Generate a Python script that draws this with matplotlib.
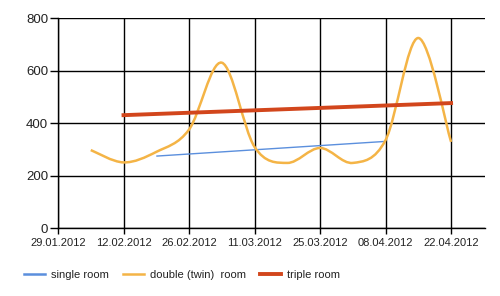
import matplotlib
matplotlib.use("Agg")
import matplotlib.pyplot as plt
import matplotlib.dates as mdates
from matplotlib.path import Path
from matplotlib.patches import PathPatch
from matplotlib.lines import Line2D
import numpy as np
import datetime as dt

plt.rcParams['font.family'] = ['Liberation Sans', 'DejaVu Sans']

# ---- data ----
single_dates = ["2012-02-19", "2012-04-08"]
single_vals = [274, 330]

double_dates = ["2012-02-05", "2012-02-12", "2012-02-19", "2012-02-26", "2012-03-04",
                "2012-03-11", "2012-03-18", "2012-03-25", "2012-04-01", "2012-04-08",
                "2012-04-15", "2012-04-22"]
double_vals = [297, 250, 290, 375, 630, 309, 248, 305, 248, 335, 724, 328]

triple_dates = ["2012-02-12", "2012-04-22"]
triple_vals = [430, 476]

tick_dates = ["2012-01-29", "2012-02-12", "2012-02-26", "2012-03-11",
              "2012-03-25", "2012-04-08", "2012-04-22"]
y_ticks = [0, 200, 400, 600, 800]

series_names = ["single room", "double (twin)  room", "triple room"]
colors = ["#5b8fdd", "#f4b446", "#d2461c"]

def to_num(ds):
    return mdates.date2num([dt.datetime.strptime(d, "%Y-%m-%d") for d in ds])

fig = plt.figure(figsize=(5.0, 2.96), dpi=100)
ax = fig.add_axes([0.116, 0.2297, 0.854, 0.7093])

# single room
ax.plot(to_num(single_dates), single_vals, color=colors[0], lw=1.0, solid_capstyle='butt')

# double room: smooth curve (Catmull-Rom as cubic Bezier path)
xs = to_num(double_dates)
ys = np.array(double_vals, dtype=float)
pts = np.column_stack([xs, ys])
verts = [tuple(pts[0])]
codes = [Path.MOVETO]
n = len(pts)
for i in range(n - 1):
    p0 = pts[i - 1] if i > 0 else pts[i]
    p1 = pts[i]
    p2 = pts[i + 1]
    p3 = pts[i + 2] if i + 2 < n else pts[i + 1]
    c1 = p1 + (p2 - p0) / 6.0
    c2 = p2 - (p3 - p1) / 6.0
    verts += [tuple(c1), tuple(c2), tuple(p2)]
    codes += [Path.CURVE4, Path.CURVE4, Path.CURVE4]
ax.add_patch(PathPatch(Path(verts, codes), fill=False, edgecolor=colors[1], lw=1.8, zorder=3))

# triple room
ax.plot(to_num(triple_dates), triple_vals, color=colors[2], lw=2.8, zorder=4)

ax.set_xlim(mdates.date2num(dt.datetime(2012, 1, 29)), mdates.date2num(dt.datetime(2012, 4, 29, 6)))
ax.set_ylim(0, 800)
ax.set_xticks(to_num(tick_dates))
ax.xaxis.set_major_formatter(mdates.DateFormatter("%d.%m.%Y"))
ax.set_yticks(y_ticks)

ax.grid(True, color="black", lw=1.0)
ax.set_axisbelow(True)
for s in ["top", "right"]:
    ax.spines[s].set_visible(False)
for s in ["left", "bottom"]:
    ax.spines[s].set_color("black")
    ax.spines[s].set_linewidth(1.0)

ax.tick_params(axis='y', length=6, width=1, color='black', labelsize=9.5, pad=1, labelcolor="#222222")
ax.tick_params(axis='x', length=4, width=1, color='black', labelsize=8, pad=3, labelcolor="#222222")

handles = [Line2D([0], [0], color=colors[0], lw=1.8),
           Line2D([0], [0], color=colors[1], lw=1.8),
           Line2D([0], [0], color=colors[2], lw=2.8)]
fig.legend(handles, series_names, loc="lower left", bbox_to_anchor=(0.048, 0.055),
           ncol=3, frameon=False, fontsize=8, handlelength=1.9, handletextpad=0.55,
           columnspacing=1.25, borderpad=0, borderaxespad=0, labelcolor="#222222")

fig.savefig("out.png", dpi=100)
